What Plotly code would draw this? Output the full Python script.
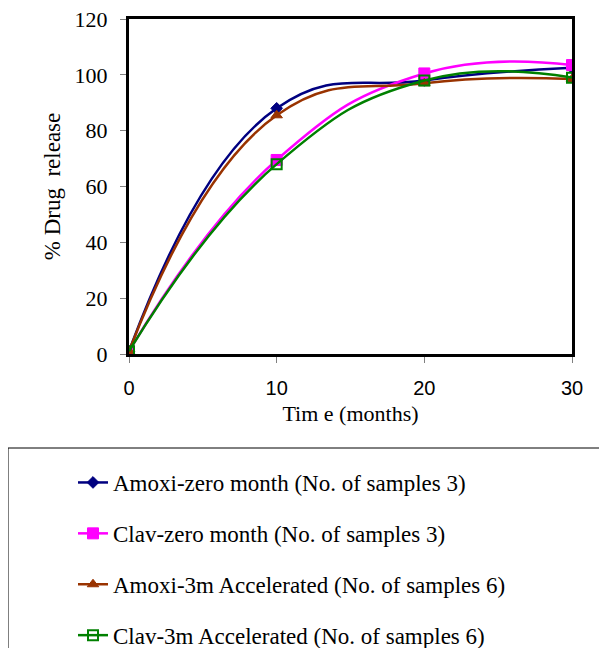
import plotly.graph_objects as go

# ---- data ----
months = [0, 10, 20, 30]
amoxi_zero = [1, 88, 98, 102.5]
clav_zero = [1, 69.5, 100.5, 103.5]
amoxi_3m = [1, 85.5, 97, 98.5]
clav_3m = [1, 68, 98, 99]

series_names = [
    "Amoxi-zero month (No. of samples 3)",
    "Clav-zero month (No. of samples 3)",
    "Amoxi-3m Accelerated (No. of samples 6)",
    "Clav-3m Accelerated (No. of samples 6)",
]
y_ticks = [0, 20, 40, 60, 80, 100, 120]
x_ticks = [0, 10, 20, 30]

series = [amoxi_zero, clav_zero, amoxi_3m, clav_3m]
styles = [
    dict(color="#000080", symbol="diamond", size=9, lw=1),
    dict(color="#FF00FF", symbol="square", size=11, lw=1),
    dict(color="#993300", symbol="triangle-up", size=10, lw=1),
    dict(color="#008000", symbol="square-open", size=10, lw=2),
]

SERIF = "Liberation Serif, Times New Roman, serif"
SANS = "Liberation Sans, Arial, sans-serif"

fig = go.Figure()
for i, (name, ys, st) in enumerate(zip(series_names, series, styles)):
    fig.add_trace(go.Scatter(
        x=months, y=ys, name=name, mode="lines+markers",
        legendgroup=f"g{i}",
        line=dict(color=st["color"], width=2.5, shape="spline", smoothing=1.3),
        marker=dict(symbol=st["symbol"], size=st["size"], color=st["color"],
                    line=dict(color=st["color"], width=st["lw"])),
    ))

# page body adds an 8px offset, so the figure is sized to the visible window
OFF = 8
W, H = 607 - OFF, 648 - OFF
# plot-area edges in (figure) pixels
PL, PR, PT, PB = 129 - OFF, 572 - OFF, 19 - OFF, 354 - OFF

fig.update_layout(
    width=W, height=H,
    margin=dict(l=0, r=0, t=0, b=0, autoexpand=False),
    paper_bgcolor="white", plot_bgcolor="white",
    showlegend=True,
    legend=dict(
        x=(73 - OFF) / W, y=1 - (461 - OFF) / H, xanchor="left", yanchor="top",
        font=dict(family=SERIF, size=23, color="black"),
        tracegroupgap=18, bgcolor="rgba(0,0,0,0)", borderwidth=0,
    ),
    xaxis=dict(
        domain=[PL / W, PR / W], automargin=False,
        range=[0, 30], tickvals=x_ticks, ticktext=[str(v) for v in x_ticks],
        showgrid=False, zeroline=False,
        showline=True, linecolor="black", linewidth=3, mirror=True,
        ticks="outside", ticklen=6, tickcolor="#808080", tickwidth=1,
        ticklabelstandoff=8, ticklabeloverflow="allow",
        tickfont=dict(family=SANS, size=20, color="black"),
        title=dict(text="Tim e (months)", font=dict(family=SERIF, size=22, color="black"), standoff=8),
    ),
    yaxis=dict(
        domain=[1 - PB / H, 1 - PT / H], automargin=False,
        range=[0, 120], tickvals=y_ticks, ticktext=[str(v) for v in y_ticks],
        showgrid=False, zeroline=False,
        showline=True, linecolor="black", linewidth=3, mirror=True,
        ticks="outside", ticklen=6, tickcolor="#808080", tickwidth=1,
        ticklabelstandoff=8, ticklabeloverflow="allow",
        tickfont=dict(family=SERIF, size=22, color="black"),
        title=dict(text="% Drug  release", font=dict(family=SERIF, size=23, color="black"), standoff=8),
    ),
    shapes=[dict(
        type="rect", xref="paper", yref="paper",
        x0=0, x1=1.05, y0=-0.05, y1=1 - (448 - OFF) / H,
        line=dict(color="black", width=1), fillcolor="rgba(0,0,0,0)",
    )],
)

fig.write_html("out.html")
